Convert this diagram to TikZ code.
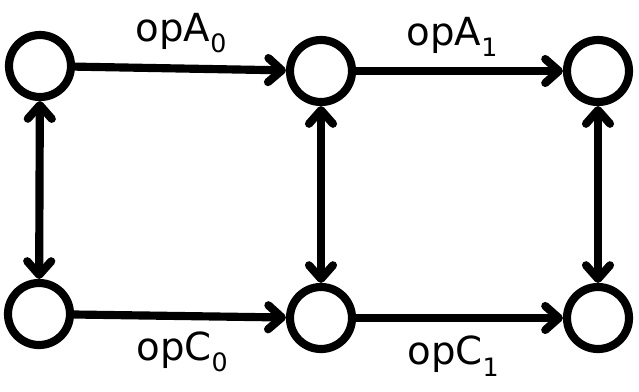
\documentclass[tikz,border=0pt]{standalone}
\usepackage{fontspec}
\setmainfont{DejaVu Sans}
\usetikzlibrary{arrows.meta}

\newcommand{\opsub}[2]{#1\raisebox{-0.3em}{\fontsize{18}{18}\selectfont #2}}

\begin{document}
\begin{tikzpicture}[
    x=0.025cm, y=-0.025cm,
    state/.style={draw, circle, line width=5.8pt, minimum size=1.55cm, inner sep=0pt},
    arrow/.style={-{Straight Barb[length=0.34cm,width=0.6cm,round]}, line width=5.8pt},
    biarrow/.style={{Straight Barb[length=0.34cm,width=0.6cm,round]}-{Straight Barb[length=0.34cm,width=0.6cm,round]}, line width=5.8pt},
    oplabel/.style={font=\fontsize{27.5}{32}\selectfont, inner sep=0pt}
]
    \useasboundingbox (0,0) rectangle (639,391);

    \node[state] (a0) at (40,66) {};
    \node[state] (a1) at (321,71) {};
    \node[state] (a2) at (598,71) {};
    \node[state] (c0) at (39,314) {};
    \node[state] (c1) at (321,318) {};
    \node[state] (c2) at (598,318) {};

    \draw[arrow] (a0) -- (a1);
    \draw[arrow] (a1) -- (a2);
    \draw[arrow] (c0) -- (c1);
    \draw[arrow] (c1) -- (c2);
    \draw[biarrow] (a0) -- (c0);
    \draw[biarrow] (a1) -- (c1);
    \draw[biarrow] (a2) -- (c2);

    \node[oplabel] (la0) at (181,33) {\opsub{opA}{0}};
    \node[oplabel] (la1) at (452,37) {\opsub{opA}{1}};
    \node[oplabel] (lc0) at (182,352) {\opsub{opC}{0}};
    \node[oplabel] (lc1) at (453,356) {\opsub{opC}{1}};
\end{tikzpicture}
\end{document}
